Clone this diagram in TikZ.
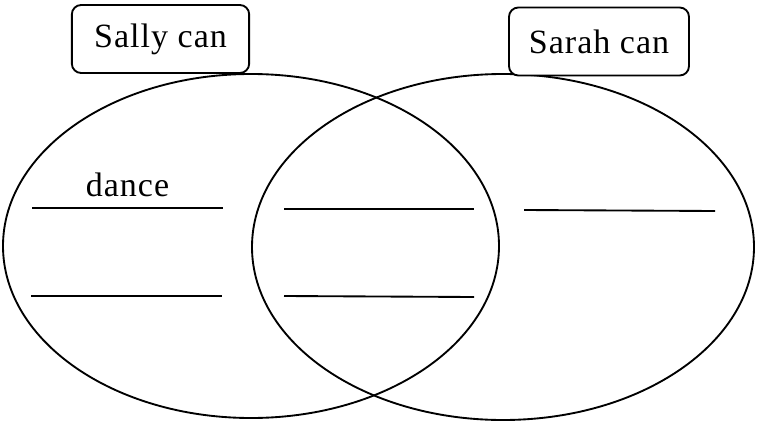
\documentclass[tikz,border=0pt]{standalone}
\usepackage{fontspec}
\setmainfont{Liberation Serif}[LetterSpace=3]

\begin{document}
\begin{tikzpicture}[x=0.75pt, y=-0.75pt, line width=1.4pt, every node/.style={font=\fontsize{25.5}{30}\selectfont}]
    \useasboundingbox (0,0) rectangle (757,425);
    % the two sets
    \draw (251,246) ellipse [x radius=248, y radius=172];
    \draw (503,247) ellipse [x radius=251, y radius=173];
    % headings
    \node[draw, rounded corners=7pt, fill=white, minimum width=133pt, minimum height=51pt] (sally) at (160.5,39) {Sally can};
    \node[draw, rounded corners=7pt, fill=white, minimum width=135pt, minimum height=51pt] (sarah) at (599,41.5) {Sarah can};
    % blanks to fill in
    \node[anchor=base] (dance) at (127.5,196) {dance};
    \draw (32,208) -- (223,208);
    \draw (31,296) -- (222,296);
    \draw (284,209) -- (474,209);
    \draw (284,296) -- (474,297);
    \draw (524,210) -- (715,211);
\end{tikzpicture}
\end{document}
